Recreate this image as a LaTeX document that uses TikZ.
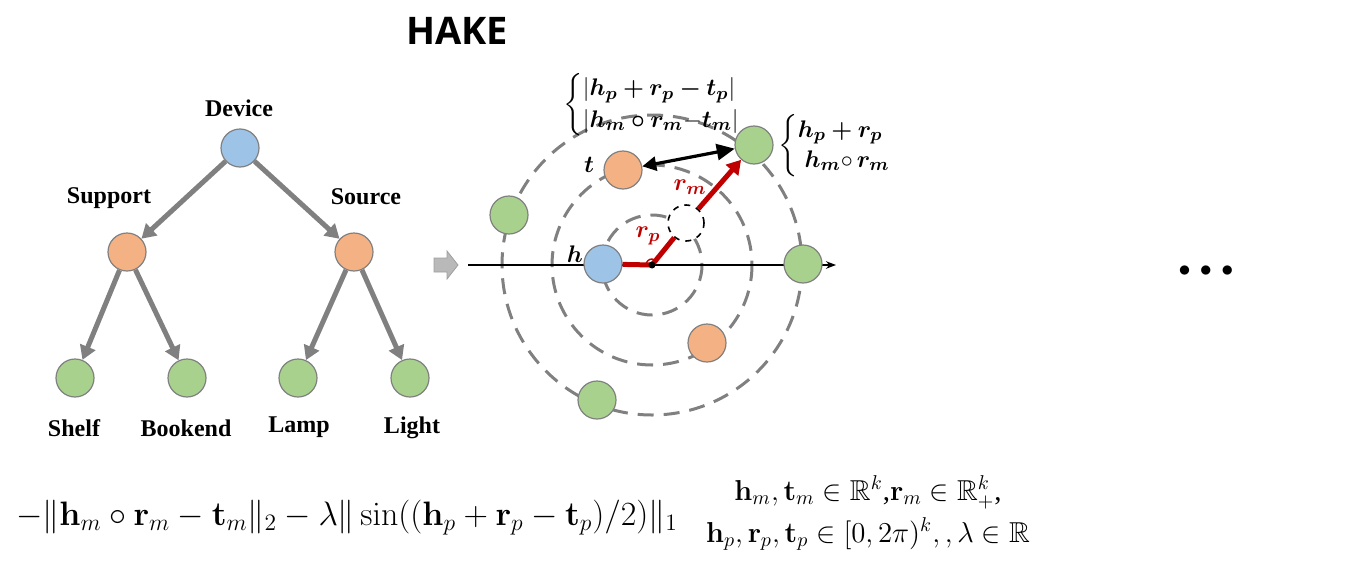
\documentclass[tikz,border=0pt]{standalone}
\usepackage{amsmath,amssymb,bm}
\usepackage[no-math]{fontspec}
\setmainfont{Liberation Serif}
\newfontfamily\titlefont{Open Sans}
\usetikzlibrary{arrows.meta}
\definecolor{entblue}{HTML}{9DC3E6}
\definecolor{entorange}{HTML}{F4B183}
\definecolor{entgreen}{HTML}{A9D18E}
\definecolor{treegray}{HTML}{808080}
\definecolor{relred}{HTML}{C00000}
\begin{document}
\begin{tikzpicture}[x=0.5pt, y=-0.5pt,
    ent/.style={circle, draw=treegray, line width=0.6pt, minimum size=19pt, inner sep=0pt},
    treelabel/.style={font=\fontsize{12}{12}\selectfont\bfseries},
    treearrow/.style={draw=treegray, line width=2.5pt, -{Triangle[length=7pt, width=8pt]}},
    ring/.style={draw=treegray, line width=1.5pt, dash pattern=on 8pt off 5pt},
    relline/.style={draw=relred, line width=2.5pt},
    mathlabel/.style={font=\fontsize{13}{15}\selectfont}]
  \useasboundingbox (0,0) rectangle (1358,562);

  % title
  \node[font=\titlefont\bfseries\fontsize{19}{19}\selectfont] (title) at (457,31) {HAKE};

  % hierarchy tree
  \node[ent, fill=entblue] (dev) at (240,148) {};
  \node[ent, fill=entorange] (sup) at (127,252) {};
  \node[ent, fill=entorange] (src) at (354,252) {};
  \node[ent, fill=entgreen] (shelf) at (75,378) {};
  \node[ent, fill=entgreen] (book) at (187,378) {};
  \node[ent, fill=entgreen] (lamp) at (298,378) {};
  \node[ent, fill=entgreen] (light) at (410,378) {};

  \node[treelabel] at (239,108) {Device};
  \node[treelabel] at (109,198) {Support};
  \node[treelabel] at (366,197) {Source};
  \node[treelabel] at (74,428) {Shelf};
  \node[treelabel] at (186,428) {Bookend};
  \node[treelabel] at (299,427) {Lamp};
  \node[treelabel] at (412,428) {Light};

  \draw[treearrow] (dev) -- (sup);
  \draw[treearrow] (dev) -- (src);
  \draw[treearrow] (sup) -- (shelf);
  \draw[treearrow] (sup) -- (book);
  \draw[treearrow] (src) -- (lamp);
  \draw[treearrow] (src) -- (light);

  % block arrow
  \filldraw[fill=gray!55, draw=gray!75, line width=0.4pt]
    (434,258) -- (447,258) -- (447,251) -- (458,265) -- (447,279) -- (447,272) -- (434,272) -- cycle;

  % rotation / modulus plane
  \coordinate (o) at (652,265);
  \coordinate (axL) at (468,265);
  \coordinate (axR) at (836,265);
  \draw[ring] (o) circle[radius=50];
  \draw[ring] (o) circle[radius=100];
  \draw[ring] (o) circle[radius=150];
  \draw[line width=0.8pt, -{Stealth[length=5pt]}] (axL) -- (axR);

  \node[ent, fill=entblue] (h) at (603,264) {};
  \node[ent, fill=entorange] (t) at (623,170) {};
  \node[ent, fill=entgreen] (hr) at (754,145) {};
  \node[ent, fill=entgreen] (g2) at (509,215) {};
  \node[ent, fill=entgreen] (g3) at (803,264) {};
  \node[ent, fill=entorange] (o2) at (707,343) {};
  \node[ent, fill=entgreen] (g4) at (597,400) {};
  \node[circle, draw=black, dashed, line width=0.8pt, fill=white, minimum size=18pt, inner sep=0pt] (mid) at (686,223) {};

  \draw[relline] (h) -- (o) -- (mid);
  \draw[relline, -{Triangle[length=7pt, width=8pt]}] (mid) -- (hr);
  \draw[relred, line width=0.7pt] (o) ++(-6,0) arc[start angle=180, end angle=310, radius=6];
  \fill (o) circle[radius=3.5];
  \draw[line width=1.6pt, {Triangle[length=7pt, width=7pt]}-{Triangle[length=9pt, width=8pt]}] (t) -- (hr);

  \node[mathlabel] at (575,254) {$\bm{h}$};
  \node[mathlabel] at (589,165) {$\bm{t}$};
  \node[mathlabel, text=relred] at (648,236) {$\bm{r_p}$};
  \node[mathlabel, text=relred] at (690,187) {$\bm{r_m}$};
  \node[mathlabel, anchor=west, inner sep=0pt] (dist) at (563,105)
    {\renewcommand{\arraystretch}{1.05}$\left\{\begin{array}{@{}l@{}} |\bm{h_p+r_p-t_p}|\\ |\bm{h_m\circ r_m}{-}\bm{t_m}| \end{array}\right.$};
  \node[mathlabel, anchor=west, inner sep=0pt] (comp) at (778,146)
    {\renewcommand{\arraystretch}{1.0}$\left\{\begin{array}{@{}l@{}} \bm{h_p+r_p}\\ \;\bm{h_m}{\circ}\,\bm{r_m} \end{array}\right.$};

  % more models
  \node[font=\fontsize{13}{13}\selectfont] (more) at (1206,271) {$\bullet\,\bullet\,\bullet$};

  % score function
  \node[font=\fontsize{17.28}{19}\selectfont, scale=0.98] (score) at (347,518)
    {$-\|\mathbf{h}_m\circ\mathbf{r}_m-\mathbf{t}_m\|_2-\lambda\|\sin((\mathbf{h}_p+\mathbf{r}_p-\mathbf{t}_p)/2)\|_1$};
  \node[font=\fontsize{14.4}{17}\selectfont, align=center] (dom) at (868,513)
    {$\mathbf{h}_m,\mathbf{t}_m\in\mathbb{R}^k$,$\mathbf{r}_m\in\mathbb{R}^k_+$,\\[4pt]
     $\mathbf{h}_p,\mathbf{r}_p,\mathbf{t}_p\in[0,2\pi)^k,,\lambda\in\mathbb{R}$};
\end{tikzpicture}
\end{document}
